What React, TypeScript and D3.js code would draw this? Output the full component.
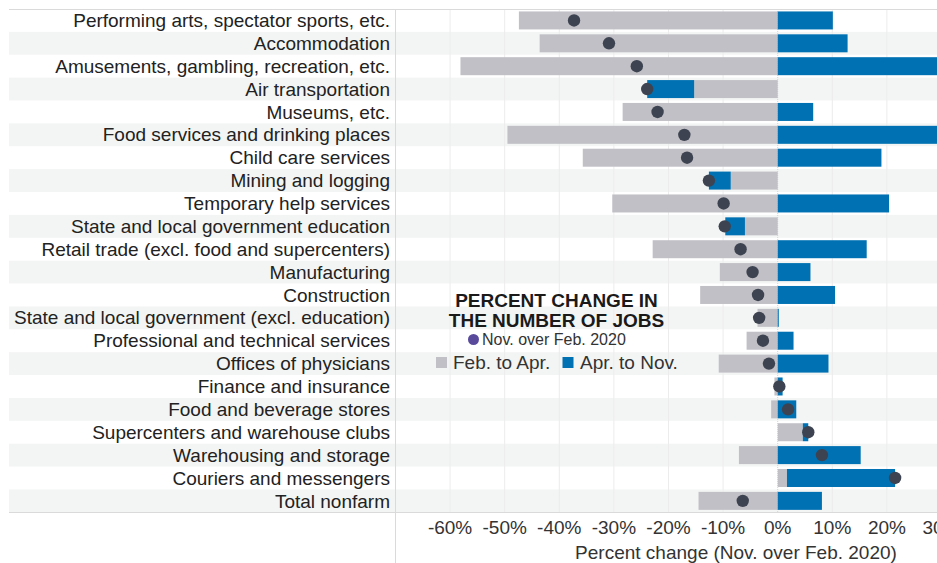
import React from "react";
import * as d3 from "d3";

const categories = [
  "Performing arts, spectator sports, etc.",
  "Accommodation",
  "Amusements, gambling, recreation, etc.",
  "Air transportation",
  "Museums, etc.",
  "Food services and drinking places",
  "Child care services",
  "Mining and logging",
  "Temporary help services",
  "State and local government education",
  "Retail trade (excl. food and supercenters)",
  "Manufacturing",
  "Construction",
  "State and local government (excl. education)",
  "Professional and technical services",
  "Offices of physicians",
  "Finance and insurance",
  "Food and beverage stores",
  "Supercenters and warehouse clubs",
  "Warehousing and storage",
  "Couriers and messengers",
  "Total nonfarm",
];

const febToApr = [-47.4, -43.6, -58.1, -15.3, -28.4, -49.5, -35.7, -8.6, -30.3, -6.0, -22.9, -10.6, -14.2, -3.7, -5.7, -10.8, -0.6, -1.2, 4.6, -7.1, 1.7, -14.5];
const aprToNov = [10.1, 12.8, 32.3, -8.6, 6.5, 32.4, 19.0, -4.0, 20.4, -3.6, 16.3, 6.0, 10.5, 0.2, 2.9, 9.3, 0.9, 3.4, 1.0, 15.2, 19.8, 8.1];
const novOverFeb = [-37.3, -30.9, -25.8, -23.9, -22.0, -17.1, -16.6, -12.6, -9.9, -9.7, -6.8, -4.6, -3.6, -3.4, -2.7, -1.6, 0.3, 1.9, 5.6, 8.1, 21.5, -6.4];

const tickValues = [-60, -50, -40, -30, -20, -10, 0, 10, 20, 30];

const W = 937;
const H = 563;
const FONT = "'Liberation Sans', Arial, sans-serif";
const GRAY = "#c1c0c6";
const BLUE = "#0071b2";
const DOT = "#3d4350";

export default function App() {
  const x = d3.scaleLinear().domain([-70, 30]).range([395.5, 941.5]);
  const y = d3.scaleBand<string>().domain(categories).range([9, 512.3]).padding(0);
  const bw = y.bandwidth();
  const barH = 18;

  const table = categories.map((c, i) => ({ cat: c, feb: febToApr[i], apr: aprToNov[i] }));
  const stack = d3
    .stack<any>()
    .keys(["feb", "apr"])
    .offset(d3.stackOffsetDiverging);
  const series = stack(table);
  const colors: Record<string, string> = { feb: GRAY, apr: BLUE };

  return (
    <svg
      width={W}
      height={H}
      style={{ position: "absolute", left: 0, top: 0, background: "#fff" }}
      fontFamily={FONT}
    >
      {/* row bands */}
      {categories.map((c, i) =>
        i % 2 === 1 ? (
          <rect key={c} x={9} y={y(c)!} width={W - 9} height={bw} fill="#f3f5f4" />
        ) : null
      )}
      {/* grid lines */}
      {tickValues.map((t) => (
        <line
          key={t}
          x1={x(t)}
          x2={x(t)}
          y1={9}
          y2={512}
          stroke={t === 0 ? "#d6d6d6" : "#ececec"}
          strokeWidth={1}
          strokeDasharray={t === 0 ? "1,1" : undefined}
        />
      ))}
      {/* frame lines */}
      <line x1={9} x2={W} y1={9.5} y2={9.5} stroke="#dadada" />
      <line x1={9} x2={W} y1={512.5} y2={512.5} stroke="#dadada" />
      <line x1={395.5} x2={395.5} y1={9} y2={H} stroke="#dadada" />

      {/* bars */}
      {series.map((s) => (
        <g key={s.key} fill={colors[s.key]}>
          {s.map((d: any) => (
            <rect
              key={d.data.cat}
              x={x(Math.min(d[0], d[1]))}
              width={Math.abs(x(d[1]) - x(d[0]))}
              y={y(d.data.cat)! + (bw - barH) / 2}
              height={barH}
            />
          ))}
        </g>
      ))}

      {/* dots */}
      {categories.map((c, i) => (
        <circle key={c} cx={x(novOverFeb[i])} cy={y(c)! + bw / 2} r={6.2} fill={DOT} />
      ))}

      {/* category labels */}
      {categories.map((c) => (
        <text
          key={c}
          x={390}
          y={y(c)! + bw / 2}
          dy="0.35em"
          textAnchor="end"
          fontSize={19}
          fill="#222"
        >
          {c}
        </text>
      ))}

      {/* tick labels */}
      {tickValues.map((t) => (
        <text key={t} x={x(t)} y={534} textAnchor="middle" fontSize={19} fill="#333">
          {`${t}%`}
        </text>
      ))}
      <text x={736} y={559} textAnchor="middle" fontSize={19} fill="#333">
        Percent change (Nov. over Feb. 2020)
      </text>

      {/* legend */}
      <g>
        <text x={556.5} y={307} textAnchor="middle" fontSize={19} fontWeight="bold" fill="#1a1a1a">
          PERCENT CHANGE IN
        </text>
        <text x={556.5} y={327} textAnchor="middle" fontSize={19} fontWeight="bold" fill="#1a1a1a">
          THE NUMBER OF JOBS
        </text>
        <circle cx={473.5} cy={339.5} r={5.5} fill="#5a4a9c" />
        <text x={482} y={345} fontSize={16} fill="#333">
          Nov. over Feb. 2020
        </text>
        <rect x={436} y={357} width={11} height={11} fill={GRAY} />
        <text x={453} y={368.5} fontSize={19} fill="#333">
          Feb. to Apr.
        </text>
        <rect x={562.5} y={357} width={11} height={11} fill={BLUE} />
        <text x={580} y={368.5} fontSize={19} fill="#333">
          Apr. to Nov.
        </text>
      </g>
    </svg>
  );
}
